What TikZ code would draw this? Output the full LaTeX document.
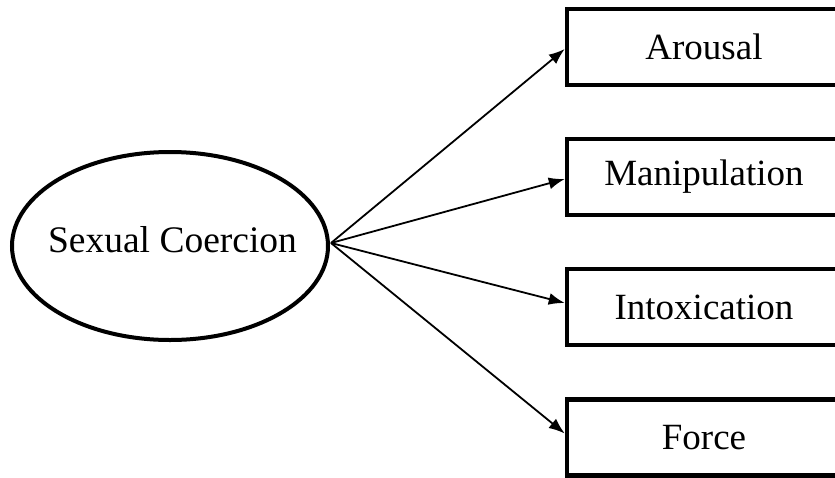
\documentclass[tikz,border=0pt]{standalone}
\usepackage{fontspec}
\setmainfont{Liberation Serif}
\usetikzlibrary{shapes.geometric,arrows.meta}

\tikzset{
  latent/.style={ellipse, draw, line width=4pt, inner sep=0pt,
    minimum width=316pt, minimum height=188pt},
  indicator/.style={rectangle, draw, line width=4.5pt, inner sep=0pt,
    minimum width=274pt, minimum height=76pt, font=\fontsize{37}{44}\selectfont},
  caption/.style={inner sep=0pt, font=\fontsize{37.5}{44}\selectfont},
  loading/.style={line width=1.8pt, -{Latex[length=16pt,width=12pt]}}
}

\begin{document}
\begin{tikzpicture}[x=1pt,y=-1pt]
  \useasboundingbox (0,0) rectangle (835,477);
  \clip (0,0) rectangle (835,477);

  % latent factor
  \node[latent] (sc) at (170,246) {};
  \node[caption] (sctext) at (172.5,239.5) {Sexual Coercion};

  % observed indicators
  \node[indicator] (arousal) at (704,47) {Arousal};
  \node[indicator] (manip)   at (704,177) {Manipulation};
  \node[indicator] (intox)   at (704,307) {Intoxication};
  \node[indicator] (force)   at (704,437.5) {Force};

  % loadings
  \coordinate (src) at ([xshift=1pt,yshift=3pt]sc.east);
  \draw[loading] (src) -- ([yshift=-2pt]arousal.west);
  \draw[loading] (src) -- ([yshift=-2pt]manip.west);
  \draw[loading] (src) -- ([yshift=4pt]intox.west);
  \draw[loading] (src) -- ([yshift=4pt]force.west);
\end{tikzpicture}
\end{document}
